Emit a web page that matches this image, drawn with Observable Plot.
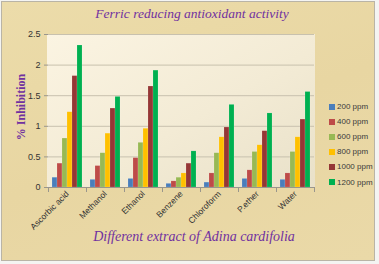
<!DOCTYPE html>
<html><head><meta charset="utf-8">
<script src="https://cdn.jsdelivr.net/npm/d3@7"></script>
<script src="https://cdn.jsdelivr.net/npm/@observablehq/plot@0.6"></script>
<style>
body{margin:0;background:#f4f4f2;}
#wrap{position:relative;width:379px;height:264px;overflow:hidden;}
#frame{position:absolute;left:1px;top:1px;width:372px;height:258px;border:1px solid #b9b4a6;
 background:linear-gradient(160deg,#ecdcaa 0%,#e8d6a2 50%,#ead9a8 100%);}
#plotbg{position:absolute;left:47px;top:34px;width:268px;height:153px;
 background:linear-gradient(150deg,#fbf4e2 0%,#f3ebd5 55%,#e9e1c9 100%);}
#chart{position:absolute;left:0;top:0;}
.title{position:absolute;font-family:"Liberation Serif",serif;font-style:italic;color:#7030a0;white-space:nowrap;transform:translateX(-50%);}
#ylab{position:absolute;left:21px;top:107px;font-family:"Liberation Serif",serif;font-weight:bold;font-size:12px;color:#7030a0;white-space:nowrap;transform:translate(-50%,-50%) rotate(-90deg);}
#legend{position:absolute;left:329px;top:99px;font-family:"Liberation Sans",sans-serif;font-size:8px;color:#3a3a3a;}
#legend div{height:15.1px;display:flex;align-items:center;}
#legend span.sw{display:inline-block;width:6px;height:6px;margin-right:2px;}
</style></head>
<body>
<div id="wrap">
 <div id="frame"></div>
 <div id="plotbg"></div>
 <div id="chart"></div>
 <div class="title" id="t1" style="left:192px;top:6px;font-size:13.5px;">Ferric reducing antioxidant activity</div>
 <div class="title" id="t2" style="left:194px;top:229px;font-size:14px;">Different extract of Adina cardifolia</div>
 <div id="ylab">% Inhibition</div>
 <div id="legend"></div>
</div>
<script>
const categories = ["Ascorbic acid","Methanol","Ethanol","Benzene","Chloroform","P.ether","Water"];
const series = ["200 ppm","400 ppm","600 ppm","800 ppm","1000 ppm","1200 ppm"];
const v200  = [0.16, 0.125, 0.14, 0.06, 0.08, 0.14, 0.125];
const v400  = [0.39, 0.35, 0.48, 0.10, 0.23, 0.28, 0.23];
const v600  = [0.80, 0.56, 0.73, 0.16, 0.56, 0.58, 0.58];
const v800  = [1.23, 0.88, 0.96, 0.23, 0.82, 0.69, 0.82];
const v1000 = [1.82, 1.29, 1.65, 0.39, 0.98, 0.92, 1.11];
const v1200 = [2.32, 1.48, 1.91, 0.59, 1.35, 1.21, 1.56];
const colors = ["#4a7ebb","#be4b48","#98b954","#ffc000","#953735","#00b050"];
const yTicks = [0, 0.5, 1, 1.5, 2, 2.5];
const yTickLabels = ["0","0.5","1","1.5","2","2.5"];

const values = [v200, v400, v600, v800, v1000, v1200];
const data = [];
categories.forEach((c, i) => series.forEach((s, j) => data.push({cat: c, s, v: values[j][i]})));

const chart = Plot.plot({
  width: 379, height: 264,
  marginLeft: 47, marginRight: 64, marginTop: 34, marginBottom: 77,
  style: {background: "transparent", overflow: "visible", fontFamily: "'Liberation Sans', sans-serif", color: "#333"},
  fx: {domain: categories, padding: 0, label: null},
  x: {domain: series, paddingInner: 0, paddingOuter: 0.7, axis: null},
  y: {domain: [0, 2.5]},
  color: {domain: series, range: colors},
  marks: [
    Plot.gridY(yTicks, {stroke: "#c8c1ae", strokeOpacity: 1}),
    Plot.barY(data, {fx: "cat", x: "s", y: "v", fill: "s", stroke: "#ffffff", strokeOpacity: 0.25, strokeWidth: 0.5}),
    Plot.ruleY([0], {stroke: "#9a968c"}),
    Plot.frame({anchor: "left", insetTop: 153, insetBottom: -4, stroke: "#9a968c"}),
    Plot.frame({anchor: "right", insetTop: 153, insetBottom: -4, stroke: "#9a968c"}),
    Plot.ruleX([0], {frameAnchor: "left", facetAnchor: "left", stroke: "#b5b0a2"}),
    Plot.axisY(yTicks, {tickFormat: (d, i) => yTickLabels[i], tickSize: 4, tickPadding: 4, fontSize: 9, label: null, stroke: "#9a968c"}),
    Plot.axisFx({anchor: "bottom", tickRotate: -45, tickSize: 0, tickPadding: 5, fontSize: 8.5, label: null})
  ]
});
document.getElementById("chart").appendChild(chart);

const legend = document.getElementById("legend");
series.forEach((s, j) => {
  const row = document.createElement("div");
  const sw = document.createElement("span");
  sw.className = "sw"; sw.style.background = colors[j];
  row.appendChild(sw);
  row.appendChild(document.createTextNode(s));
  legend.appendChild(row);
});
</script>
</body></html>
